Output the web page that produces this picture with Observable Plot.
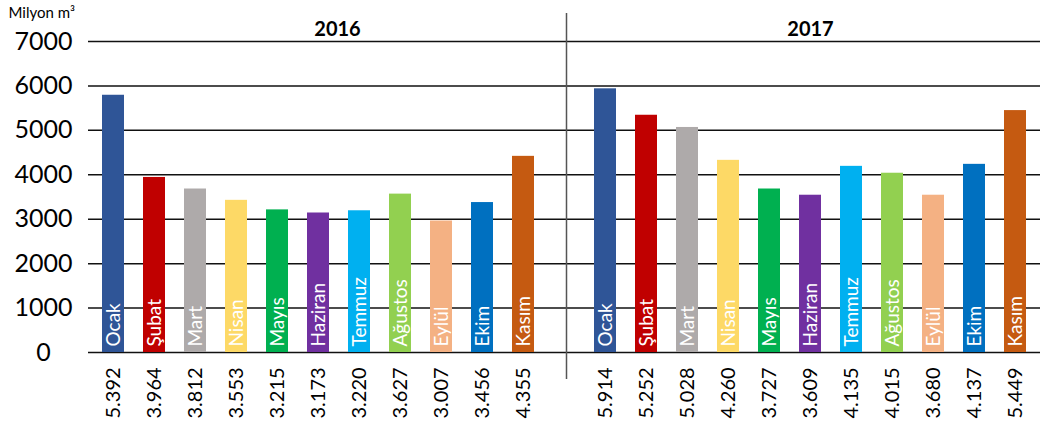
<!DOCTYPE html>
<html><head><meta charset="utf-8">
<script src="https://cdn.jsdelivr.net/npm/d3@7"></script>
<script src="https://cdn.jsdelivr.net/npm/@observablehq/plot@0.6"></script>
<style>body{margin:0;background:#fff;}</style>
</head><body><div id="chart"></div>
<script>
const months = ["Ocak","Şubat","Mart","Nisan","Mayıs","Haziran","Temmuz","Ağustos","Eylül","Ekim","Kasım"];
const years = ["2016","2017"];
const monthColors = ["#2F5597","#C00000","#AEAAAA","#FDD966","#00B050","#7030A0","#00B0F0","#92D050","#F4B183","#0070C0","#C55A11"];
const bars2016 = [5790, 3940, 3680, 3425, 3210, 3140, 3190, 3565, 2960, 3375, 4415];
const bars2017 = [5935, 5340, 5065, 4325, 3680, 3540, 4190, 4035, 3540, 4235, 5445];
const labels2016 = ["5.392","3.964","3.812","3.553","3.215","3.173","3.220","3.627","3.007","3.456","4.355"];
const labels2017 = ["5.914","5.252","5.028","4.260","3.727","3.609","4.135","4.015","3.680","4.137","5.449"];
const yTicks = [0,1000,2000,3000,4000,5000,6000,7000];
const unitLabel = "Milyon m³";

const series = {"2016": {values: bars2016, labels: labels2016}, "2017": {values: bars2017, labels: labels2017}};
const data = [];
for (const yr of years) {
  months.forEach((m, i) => data.push({key: yr + "-" + m, year: yr, month: m, value: series[yr].values[i], label: series[yr].labels[i], color: monthColors[i]}));
}
const xDomain = [...months.map(m => "2016-" + m), "gap", ...months.map(m => "2017-" + m)];

const chart = Plot.plot({
  width: 1040, height: 427,
  marginLeft: 88, marginRight: 0, marginTop: 41, marginBottom: 75,
  x: {domain: xDomain, range: [92, 1036], paddingInner: 0.46, paddingOuter: 0.23, axis: null},
  y: {domain: [0, 7000], axis: null},
  color: {type: "identity"},
  style: {fontFamily: "Lato, sans-serif", background: "#fff", color: "#000"},
  marks: [
    Plot.ruleY(yTicks, {stroke: "#111", strokeWidth: 1.5}),
    Plot.ruleX(["gap"], {x: d => d, stroke: "#555", strokeWidth: 1.5, insetTop: -28, insetBottom: -27, dx: 2}),
    Plot.barY(data, {x: "key", y: "value", fill: "color"}),
    Plot.text(data, {x: "key", y: 0, text: "month", rotate: -90, textAnchor: "start", dy: -6, fill: "white", fontSize: 19}),
    Plot.text(data, {x: "key", y: 0, text: "label", rotate: -90, textAnchor: "start", dy: 66, fill: "black", fontSize: 20}),
    Plot.text(yTicks, {y: d => d, text: d => String(d), frameAnchor: "left", dx: -45, textAnchor: "middle", fontSize: 25, fill: "black"}),
    Plot.text([years[0]], {x: d => d + "-Haziran", y: 7000, text: d => d, dx: 19, lineAnchor: "bottom", dy: -6, fontSize: 20, fontWeight: "bold", fill: "black"}),
    Plot.text([years[1]], {x: d => d + "-Haziran", y: 7000, text: d => d, lineAnchor: "bottom", dy: -6, fontSize: 20, fontWeight: "bold", fill: "black"}),
    Plot.text([unitLabel], {frameAnchor: "top-left", text: d => d, dx: -80, dy: -34, textAnchor: "start", lineAnchor: "top", fontSize: 15, fill: "black"})
  ]
});
document.getElementById("chart").append(chart);
</script>
</body></html>
